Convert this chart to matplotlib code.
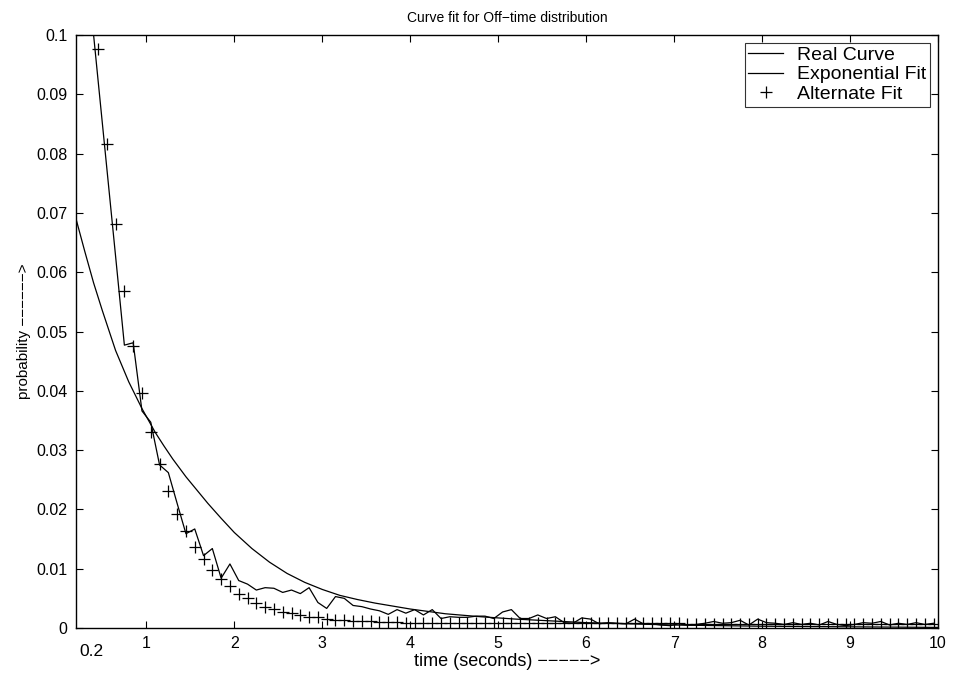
import numpy as np
import matplotlib
matplotlib.use("Agg")
import matplotlib.pyplot as plt

plt.rcParams['font.family'] = ['Liberation Sans', 'DejaVu Sans']

# ---- data ----
real_t = np.round(np.arange(0.35, 10.0, 0.1), 2)
real_p = [0.1075, 0.0925, 0.0776, 0.0627, 0.0477, 0.0481, 0.0366, 0.0347, 0.0275, 0.0262,
          0.0210, 0.0159, 0.0167, 0.0122, 0.0134, 0.0084, 0.0108, 0.0080, 0.0074, 0.0064,
          0.0068, 0.0067, 0.0060, 0.0064, 0.0058, 0.0068, 0.0043, 0.0033, 0.0053, 0.0050,
          0.0038, 0.0036, 0.0032, 0.0029, 0.0023, 0.0031, 0.0025, 0.0031, 0.0022, 0.0031,
          0.0016, 0.0019, 0.0018, 0.0018, 0.0020, 0.0020, 0.0016, 0.0027, 0.0031, 0.0016,
          0.0016, 0.0022, 0.0016, 0.0019, 0.0009, 0.0008, 0.0017, 0.0015, 0.0007, 0.0009,
          0.0008, 0.0007, 0.0015, 0.0007, 0.0007, 0.0005, 0.0004, 0.0007, 0.0005, 0.0006,
          0.0008, 0.0011, 0.0008, 0.0009, 0.0013, 0.0005, 0.0015, 0.0009, 0.0008, 0.0006,
          0.0009, 0.0006, 0.0008, 0.0005, 0.0011, 0.0006, 0.0004, 0.0006, 0.0009, 0.0008,
          0.0011, 0.0005, 0.0008, 0.0006, 0.0009, 0.0006, 0.0008]

exp_t = [0.2, 0.3, 0.4, 0.5, 0.65, 0.8, 0.95, 1.1, 1.2, 1.3, 1.45, 1.6, 1.7, 1.85, 2.0,
         2.2, 2.4, 2.6, 2.8, 3.0, 3.2, 3.4, 3.6, 4.0, 4.4, 4.8, 5.2, 5.6, 6.0, 6.5,
         7.0, 7.5, 8.0, 9.0, 10.0]
exp_p = [0.069, 0.0635, 0.0582, 0.0535, 0.0468, 0.0415, 0.0370, 0.0330, 0.0307, 0.0285,
         0.0255, 0.0228, 0.0210, 0.0185, 0.0161, 0.0134, 0.0111, 0.0092, 0.0077, 0.0065,
         0.0055, 0.0048, 0.0042, 0.0032, 0.0024, 0.0019, 0.0015, 0.0012, 0.0009, 0.0007,
         0.0005, 0.0004, 0.0003, 0.0002, 0.0001]

alt_t = np.round(np.arange(0.45, 10.0, 0.1), 2)
alt_p = [0.0977, 0.0816, 0.0681, 0.0568, 0.0476, 0.0396, 0.0331, 0.0276, 0.0231, 0.0193,
         0.0164, 0.0137, 0.0116, 0.0098, 0.0082, 0.0070, 0.0058, 0.0050, 0.0043, 0.0036,
         0.0032, 0.0027, 0.0025, 0.0022, 0.0019, 0.0018, 0.0016, 0.0014, 0.0013, 0.0012,
         0.0011, 0.0011, 0.0010, 0.0010, 0.0010,
         0.0009, 0.0009, 0.0009, 0.0009, 0.0009, 0.0009, 0.0009, 0.0009, 0.0009, 0.0009,
         0.0009, 0.0009, 0.0008, 0.0008, 0.0008, 0.0008, 0.0008, 0.0008, 0.0008, 0.0008,
         0.0008, 0.0008, 0.0008, 0.0008, 0.0008, 0.0008, 0.0008, 0.0008, 0.0008, 0.0008,
         0.0008, 0.0008, 0.0007, 0.0007, 0.0007, 0.0007, 0.0007, 0.0007, 0.0007, 0.0007,
         0.0007, 0.0007, 0.0007, 0.0007, 0.0007, 0.0007, 0.0007, 0.0007, 0.0007, 0.0007,
         0.0007, 0.0007, 0.0007, 0.0007, 0.0007, 0.0007, 0.0007, 0.0007, 0.0007, 0.0007,
         0.0007]

xticks = [1, 2, 3, 4, 5, 6, 7, 8, 9, 10]
yticks = [0, 0.01, 0.02, 0.03, 0.04, 0.05, 0.06, 0.07, 0.08, 0.09, 0.1]
ytick_labels = ["0", "0.01", "0.02", "0.03", "0.04", "0.05", "0.06", "0.07", "0.08", "0.09", "0.1"]

# ---- figure ----
fig = plt.figure(figsize=(9.55, 6.79), dpi=100)
ax = fig.add_axes([76/955, 1 - 628/679, (938 - 76)/955, (628 - 35)/679])

ax.plot(real_t, real_p, color='black', lw=0.9, label='Real Curve')
ax.plot(exp_t, exp_p, color='black', lw=0.9, label='Exponential Fit')
ax.plot(alt_t, alt_p, linestyle='none', marker='+', color='black', ms=9, mew=0.9,
        label='Alternate Fit')

ax.set_xlim(0.2, 10)
ax.set_ylim(0, 0.1)
ax.set_xticks(xticks)
ax.set_xticklabels([str(v) for v in xticks])
ax.set_yticks(yticks)
ax.set_yticklabels(ytick_labels)
ax.tick_params(direction='in', length=5, width=0.8, top=True, right=True,
               labelsize=11.5, pad=6)
for s in ax.spines.values():
    s.set_linewidth(1.0)

ax.set_title("Curve fit for Off\u2212time distribution", fontsize=10, pad=9)
ax.set_xlabel("time (seconds) \u2212\u2212\u2212\u2212\u2212>", fontsize=13, labelpad=1)
ax.set_ylabel("probability \u2212\u2212\u2212\u2212\u2212\u2212>", fontsize=11, labelpad=4)

fig.text(91/955, 1 - 651/679, "0.2", ha='center', va='center', fontsize=12.5)

leg = ax.legend(loc='upper right', fontsize=14, frameon=True, fancybox=False,
                edgecolor='black', handlelength=1.8, borderpad=0.2, labelspacing=0.08,
                handletextpad=0.7, borderaxespad=0.4)
leg.get_frame().set_linewidth(0.8)

fig.savefig("out.png", dpi=100)
